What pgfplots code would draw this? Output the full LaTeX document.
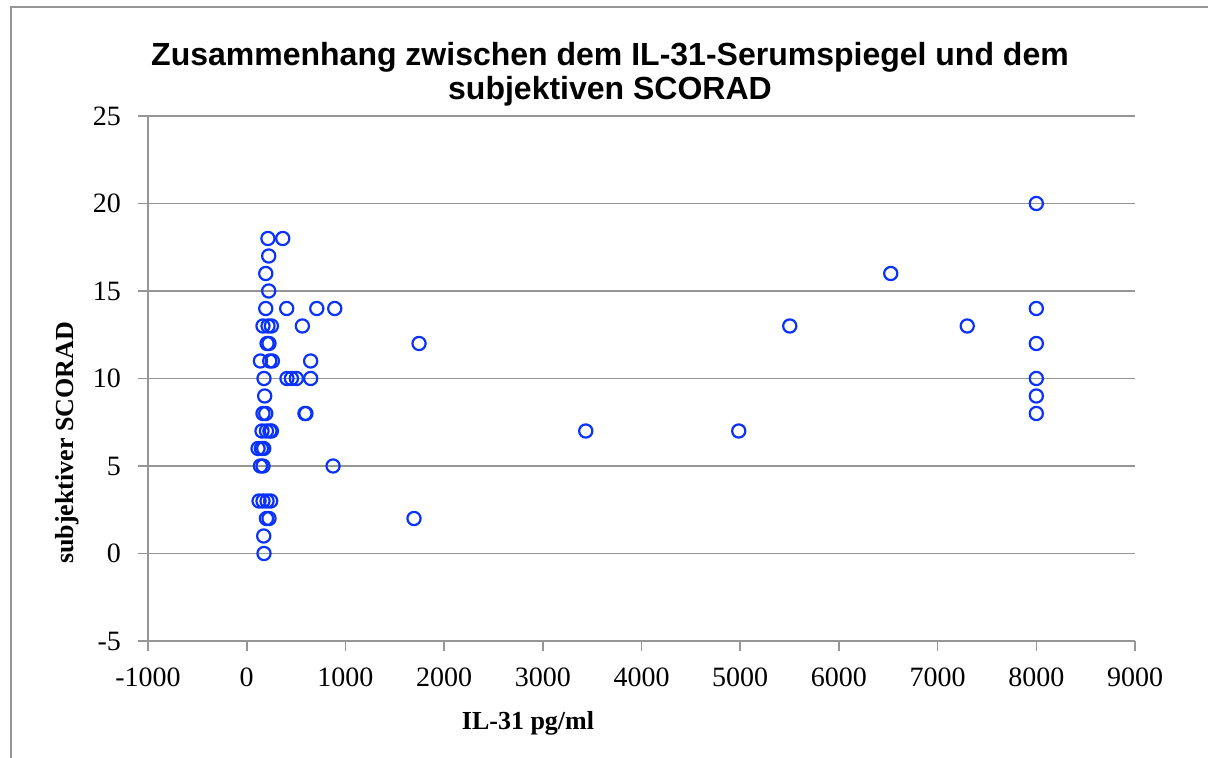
\documentclass[border=0pt]{standalone}
\usepackage{fontspec}
\setmainfont{Liberation Serif}
\newfontfamily\sansfont{Liberation Sans}
\usepackage{pgfplots}
\pgfplotsset{compat=1.18}
\definecolor{mk}{RGB}{10,50,255}
\definecolor{gl}{RGB}{150,150,150}
\begin{document}
\begin{tikzpicture}
\path[use as bounding box] (0,0) rectangle (604pt,379pt);
\draw[gl, line width=0.8pt] (5.5pt,0) -- (5.5pt,375.5pt) -- (604pt,375.5pt);
\begin{axis}[
  at={(74pt,58.5pt)}, anchor=south west,
  scale only axis, width=493.5pt, height=262.5pt,
  xmin=-1000, xmax=9000, ymin=-5, ymax=25,
  xtick={-1000,0,...,9000}, ytick={-5,0,...,25},
  axis x line=bottom, axis y line=left,
  axis line style={gl, line width=0.8pt, -},
  ymajorgrids, grid style={gl, line width=0.8pt},
  tick style={gl, line width=0.8pt}, tick align=outside, major tick length=5pt,
  /pgf/number format/assume math mode=true,
  /pgf/number format/set thousands separator={},
  ticklabel style={font=\fontsize{14}{16}\selectfont, black},
  yticklabel style={xshift=-5pt},
  xticklabel style={yshift=-5pt},
  clip=false,
]
\addplot[only marks, mark=o, mark size=3.3pt, mk, line width=1.1pt] coordinates {
(215,18) (365,18)
(223,17)
(193,16) (6525,16)
(223,15)
(193,14) (405,14) (710,14) (892,14) (8000,14)
(165,13) (216,13) (250,13) (564,13) (5502,13) (7300,13)
(206,12) (226,12) (1746,12) (8000,12)
(139,11) (233,11) (260,11) (648,11)
(175,10) (408,10) (453,10) (503,10) (648,10) (8000,10)
(182,9) (8000,9)
(165,8) (193,8) (590,8) (600,8) (8000,8)
(155,7) (200,7) (235,7) (250,7) (3435,7) (4985,7)
(115,6) (149,6) (172,6)
(139,5) (165,5) (875,5)
(125,3) (165,3) (206,3) (243,3)
(200,2) (226,2) (1695,2)
(172,1)
(175,0)
(8000,20)
};
\end{axis}
\node[font=\sansfont\bfseries\fontsize{16}{17}\selectfont, align=center] at (305pt,342pt)
  {Zusammenhang zwischen dem IL-31-Serumspiegel und dem\\subjektiven SCORAD};
\node[font=\bfseries\fontsize{13}{15}\selectfont] at (264pt,17.5pt) {IL-31 pg/ml};
\node[font=\bfseries\fontsize{13}{15}\selectfont, rotate=90] at (33.5pt,157.5pt) {subjektiver SCORAD};
\end{tikzpicture}
\end{document}
